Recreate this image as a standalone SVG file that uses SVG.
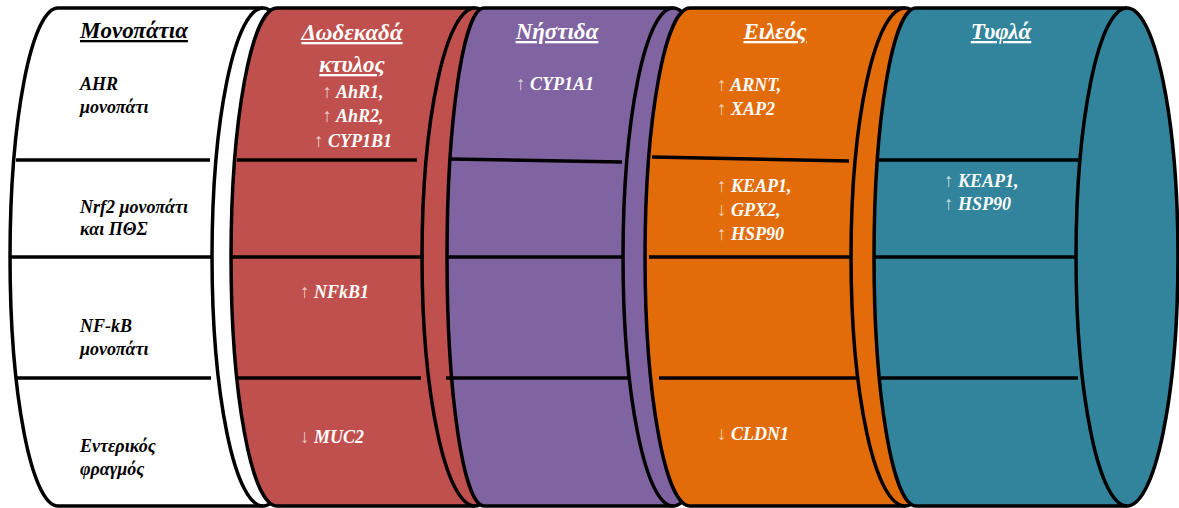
<svg xmlns="http://www.w3.org/2000/svg" width="1179" height="508" viewBox="0 0 1179 508">
  <style>
    .body { stroke: #000; stroke-width: 3.5; stroke-linejoin: round; }
    .cap { fill: none; stroke: #000; stroke-width: 3.5; }
    .div { stroke: #000; stroke-width: 3.5; }
    text { font-family: "Liberation Serif", "Times New Roman", serif; font-weight: bold; font-style: italic; font-size: 18px; }
    .title { font-size: 23px; text-decoration: underline; }
    .dark { fill: #000; }
    .light { fill: #fff; }
    .arr { font-style: normal; font-weight: normal; fill-opacity: 0.72; font-size: 19px; }
  </style>
  <rect width="1179" height="508" fill="#fff"/>

  <!-- Column of pathway names -->
  <g id="pathways">
    <path class="body" fill="#fff" d="M58,8 L263,8 A51,249 0 0 1 263,506 L58,506 A48,249 0 0 1 58,8 Z"/>
    <path class="cap" d="M263,8 A51,249 0 0 0 263,506"/>
    <line class="div" x1="16" y1="160" x2="210" y2="160"/>
    <line class="div" x1="10" y1="257" x2="211" y2="257"/>
    <line class="div" x1="17" y1="378" x2="211" y2="378"/>
    <text class="dark title" x="80" y="38">Μονοπάτια</text>
    <text class="dark" x="80" y="90">AHR</text>
    <text class="dark" x="80" y="113">μονοπάτι</text>
    <text class="dark" x="80" y="213">Nrf2 μονοπάτι</text>
    <text class="dark" x="80" y="235">και ΠΘΣ</text>
    <text class="dark" x="80" y="332">NF-kB</text>
    <text class="dark" x="80" y="355">μονοπάτι</text>
    <text class="dark" x="80" y="452">Εντερικός</text>
    <text class="dark" x="80" y="475">φραγμός</text>
  </g>

  <!-- Duodenum -->
  <g id="duodenum">
    <path class="body" fill="#c0504d" d="M277,8 L475,8 A53,249 0 0 1 475,506 L277,506 A46,249 0 0 1 277,8 Z"/>
    <path class="cap" d="M475,8 A53,249 0 0 0 475,506"/>
    <line class="div" x1="237" y1="160" x2="417" y2="160"/>
    <line class="div" x1="231" y1="257" x2="424" y2="257"/>
    <line class="div" x1="237" y1="378" x2="421" y2="378"/>
    <text class="light title" x="352" y="40" text-anchor="middle">Δωδεκαδά</text>
    <text class="light title" x="352" y="72" text-anchor="middle">κτυλος</text>
    <text class="light" x="353" y="98" text-anchor="middle"><tspan class="arr">↑</tspan> AhR1,</text>
    <text class="light" x="353" y="122" text-anchor="middle"><tspan class="arr">↑</tspan> AhR2,</text>
    <text class="light" x="353" y="147" text-anchor="middle"><tspan class="arr">↑</tspan> CYP1B1</text>
    <text class="light" x="300" y="298"><tspan class="arr">↑</tspan> NFkB1</text>
    <text class="light" x="300" y="443"><tspan class="arr">↓</tspan> MUC2</text>
  </g>

  <!-- Jejunum -->
  <g id="jejunum">
    <path class="body" fill="#8064a2" d="M484,8 L673,8 A50,249 0 0 1 673,506 L484,506 A37,249 0 0 1 484,8 Z"/>
    <path class="cap" d="M673,8 A50,249 0 0 0 673,506"/>
    <line class="div" x1="450" y1="159" x2="622" y2="162"/>
    <line class="div" x1="447" y1="257" x2="624" y2="257"/>
    <line class="div" x1="446" y1="378" x2="628" y2="378"/>
    <text class="light title" x="557" y="39" text-anchor="middle">Νήστιδα</text>
    <text class="light" x="516" y="90"><tspan class="arr">↑</tspan> CYP1A1</text>
  </g>

  <!-- Ileum -->
  <g id="ileum">
    <path class="body" fill="#e36c0a" d="M690,8 L905,8 A54,249 0 0 1 905,506 L690,506 A45,249 0 0 1 690,8 Z"/>
    <path class="cap" d="M905,8 A54,249 0 0 0 905,506"/>
    <line class="div" x1="652" y1="157" x2="849" y2="161"/>
    <line class="div" x1="649" y1="257" x2="850" y2="257"/>
    <line class="div" x1="659" y1="378" x2="856" y2="378"/>
    <text class="light title" x="775" y="39" text-anchor="middle">Ειλεός</text>
    <text class="light" x="717" y="91"><tspan class="arr">↑</tspan> ARNT,</text>
    <text class="light" x="717" y="115"><tspan class="arr">↑</tspan> XAP2</text>
    <text class="light" x="717" y="192"><tspan class="arr">↑</tspan> KEAP1,</text>
    <text class="light" x="717" y="216"><tspan class="arr">↓</tspan> GPX2,</text>
    <text class="light" x="717" y="240"><tspan class="arr">↑</tspan> HSP90</text>
    <text class="light" x="717" y="440"><tspan class="arr">↓</tspan> CLDN1</text>
  </g>

  <!-- Caecum -->
  <g id="caecum">
    <path class="body" fill="#31849b" d="M916,8 L1127,8 A51,249 0 0 1 1127,506 L916,506 A42,249 0 0 1 916,8 Z"/>
    <path class="cap" d="M1127,8 A51,249 0 0 0 1127,506"/>
    <line class="div" x1="878" y1="160" x2="1078" y2="160"/>
    <line class="div" x1="875" y1="257" x2="1076" y2="257"/>
    <line class="div" x1="881" y1="378" x2="1078" y2="378"/>
    <text class="light title" x="1001" y="39" text-anchor="middle">Τυφλά</text>
    <text class="light" x="944" y="187"><tspan class="arr">↑</tspan> KEAP1,</text>
    <text class="light" x="944" y="210"><tspan class="arr">↑</tspan> HSP90</text>
  </g>

  <!-- no connectors in this figure -->
  <g id="connectors"/>
</svg>
